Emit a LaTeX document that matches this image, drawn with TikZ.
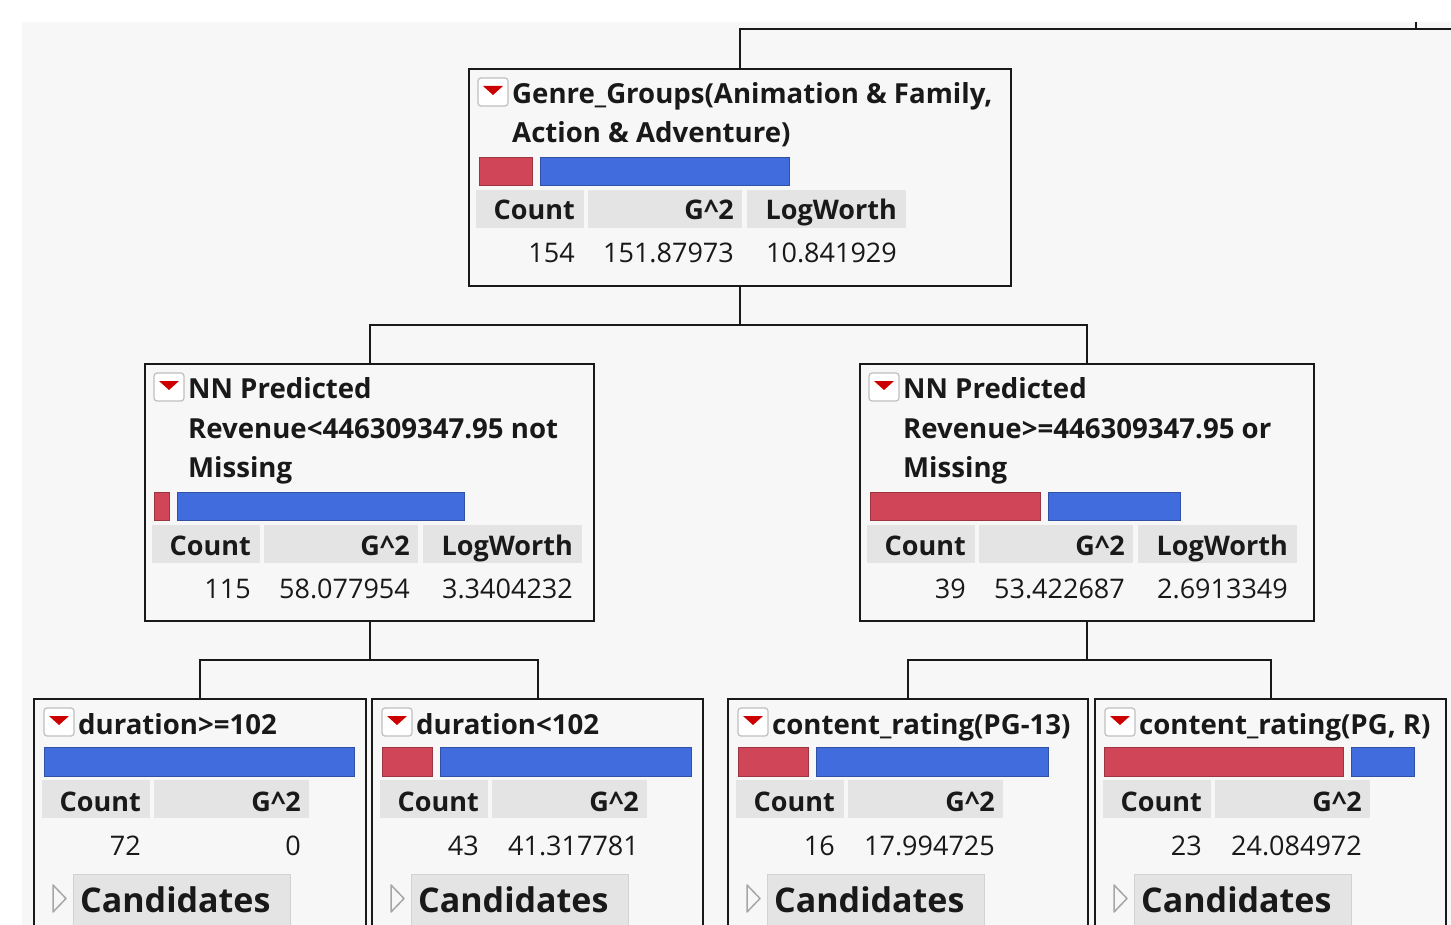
\documentclass[tikz,border=0pt]{standalone}
\usepackage{fontspec}
\setmainfont{Open Sans}
\definecolor{bg}{RGB}{247,247,247}
\definecolor{hdr}{RGB}{228,228,228}
\definecolor{barred}{RGB}{208,70,88}
\definecolor{barblue}{RGB}{65,108,222}
\definecolor{ink}{RGB}{25,25,25}

\begin{document}
\begin{tikzpicture}[x=1pt,y=-1pt,
  box/.style={draw=ink,line width=2pt,fill=bg,anchor=north west,inner sep=0pt,outer sep=0pt},
  link/.style={draw=ink,line width=2pt},
  ttl/.style={anchor=base west,inner sep=0pt,text=ink,font=\fontsize{27.6}{32}\selectfont\bfseries},
  hd/.style={anchor=base east,inner sep=0pt,text=ink,font=\fontsize{27}{32}\selectfont\bfseries},
  num/.style={anchor=base east,inner sep=0pt,text=ink,font=\fontsize{27}{32}\selectfont},
  cand/.style={anchor=base west,inner sep=0pt,text=ink,font=\fontsize{34}{40}\selectfont\bfseries},
  cell/.style={fill=hdr},
  rbar/.style={fill=barred,draw=barred!75!black,line width=0.8pt},
  bbar/.style={fill=barblue,draw=barblue!75!black,line width=0.8pt},
  icon/.style={draw=gray!50,fill=white,line width=1.2pt,rounded corners=3pt},
  tri/.style={fill=red!80!black},
  opener/.style={draw=gray!70,line width=1.5pt,line join=round},
  cbox/.style={fill=hdr,draw=gray!35,line width=1pt}]

\useasboundingbox (0,0) rectangle (1451,925);
\clip (0,0) rectangle (1451,925);
\fill[white] (0,0) rectangle (1451,925);
\fill[bg] (22,22) rectangle (1451,925);

\node[box,minimum width=542pt,minimum height=217pt] (root) at (469,69) {};
\node[box,minimum width=449pt,minimum height=257pt] (l) at (145,364) {};
\node[box,minimum width=454pt,minimum height=257pt] (r) at (860,364) {};
\node[box,minimum width=332pt,minimum height=300pt] (ll) at (34,699) {};
\node[box,minimum width=331pt,minimum height=300pt] (lr) at (372,699) {};
\node[box,minimum width=360pt,minimum height=300pt] (rl) at (728,699) {};
\node[box,minimum width=351pt,minimum height=300pt] (rr) at (1095,699) {};

\coordinate (edge) at (1451,29);
\coordinate (tick) at (1416,22);
\draw[link] (root.north) |- (edge);
\draw[link] (tick) -- (tick |- edge);
\draw[link] (root.south) -- ++(0,39) -| (l.north);
\draw[link] (root.south) -- ++(0,39) -| (r.north);
\draw[link] (l.south) -- ++(0,39) -| (ll.north);
\draw[link] (l.south) -- ++(0,39) -| (lr.north);
\draw[link] (r.south) -- ++(0,39) -| (rl.north);
\draw[link] (r.south) -- ++(0,39) -| (rr.north);

% root split
\begin{scope}[shift={(469,69)}]
\draw[icon] (9,9) rectangle (39,37);
\fill[tri] (14,17) -- (34,17) -- (24,26) -- cycle;
\node[ttl] (rt1) at (43,35) {Genre\_Groups(Animation \& Family,};
\node[ttl] (rt2) at (43,74) {Action \& Adventure)};
\draw[rbar] (10,88) rectangle (63,116);
\draw[bbar] (71,88) rectangle (320,116);
\fill[cell] (7,121) rectangle (115,159);
\fill[cell] (119,121) rectangle (273,159);
\fill[cell] (278,121) rectangle (437,159);
\node[hd] (rh1) at (106,151) {Count};
\node[hd] (rh2) at (265,151) {G\textasciicircum 2};
\node[hd] (rh3) at (428,151) {LogWorth};
\node[num] (rn1) at (106,194) {154};
\node[num] (rn2) at (265,194) {151.87973};
\node[num] (rn3) at (428,194) {10.841929};
\end{scope}

% revenue below
\begin{scope}[shift={(145,364)}]
\draw[icon] (9,9) rectangle (39,37);
\fill[tri] (14,17) -- (34,17) -- (24,26) -- cycle;
\node[ttl] (lt1) at (43,34) {NN Predicted};
\node[ttl] (lt2) at (43,74) {Revenue<446309347.95 not};
\node[ttl] (lt3) at (43,113) {Missing};
\draw[rbar] (9,128) rectangle (24,156);
\draw[bbar] (32,128) rectangle (319,156);
\fill[cell] (7,161) rectangle (115,199);
\fill[cell] (119,161) rectangle (273,199);
\fill[cell] (278,161) rectangle (437,199);
\node[hd] (lh1) at (106,191) {Count};
\node[hd] (lh2) at (265,191) {G\textasciicircum 2};
\node[hd] (lh3) at (428,191) {LogWorth};
\node[num] (ln1) at (106,234) {115};
\node[num] (ln2) at (265,234) {58.077954};
\node[num] (ln3) at (428,234) {3.3404232};
\end{scope}

% revenue above
\begin{scope}[shift={(860,364)}]
\draw[icon] (9,9) rectangle (39,37);
\fill[tri] (14,17) -- (34,17) -- (24,26) -- cycle;
\node[ttl] (pt1) at (43,34) {NN Predicted};
\node[ttl] (pt2) at (43,74) {Revenue>=446309347.95 or};
\node[ttl] (pt3) at (43,113) {Missing};
\draw[rbar] (10,128) rectangle (180,156);
\draw[bbar] (188,128) rectangle (320,156);
\fill[cell] (7,161) rectangle (115,199);
\fill[cell] (119,161) rectangle (273,199);
\fill[cell] (278,161) rectangle (437,199);
\node[hd] (ph1) at (106,191) {Count};
\node[hd] (ph2) at (265,191) {G\textasciicircum 2};
\node[hd] (ph3) at (428,191) {LogWorth};
\node[num] (pn1) at (106,234) {39};
\node[num] (pn2) at (265,234) {53.422687};
\node[num] (pn3) at (428,234) {2.6913349};
\end{scope}

% leaves
\begin{scope}[shift={(34,699)}]
\draw[icon] (10,9) rectangle (40,37);
\fill[tri] (15,17) -- (35,17) -- (25,26) -- cycle;
\node[ttl] (at1) at (44,35) {duration>=102};
\draw[bbar] (10,48) rectangle (320,77);
\fill[cell] (8,81) rectangle (116,119);
\fill[cell] (120,81) rectangle (275,119);
\node[hd] (ah1) at (107,112) {Count};
\node[hd] (ah2) at (267,112) {G\textasciicircum 2};
\node[num] (an1) at (107,156) {72};
\node[num] (an2) at (267,156) {0};
\draw[opener] (19,186) -- (32,199.5) -- (19,213) -- cycle;
\draw[cbox] (39,175) rectangle (256,260);
\node[cand] (ac) at (46,213) {Candidates};
\end{scope}

\begin{scope}[shift={(372,699)}]
\draw[icon] (10,9) rectangle (40,37);
\fill[tri] (15,17) -- (35,17) -- (25,26) -- cycle;
\node[ttl] (bt1) at (44,35) {duration<102};
\draw[rbar] (10,48) rectangle (60,77);
\draw[bbar] (68,48) rectangle (319,77);
\fill[cell] (8,81) rectangle (116,119);
\fill[cell] (120,81) rectangle (275,119);
\node[hd] (bh1) at (107,112) {Count};
\node[hd] (bh2) at (267,112) {G\textasciicircum 2};
\node[num] (bn1) at (107,156) {43};
\node[num] (bn2) at (267,156) {41.317781};
\draw[opener] (19,186) -- (32,199.5) -- (19,213) -- cycle;
\draw[cbox] (39,175) rectangle (256,260);
\node[cand] (bc) at (46,213) {Candidates};
\end{scope}

\begin{scope}[shift={(728,699)}]
\draw[icon] (10,9) rectangle (40,37);
\fill[tri] (15,17) -- (35,17) -- (25,26) -- cycle;
\node[ttl] (ct1) at (44,35) {content\_rating(PG-13)};
\draw[rbar] (10,48) rectangle (80,77);
\draw[bbar] (88,48) rectangle (320,77);
\fill[cell] (8,81) rectangle (116,119);
\fill[cell] (120,81) rectangle (275,119);
\node[hd] (ch1) at (107,112) {Count};
\node[hd] (ch2) at (267,112) {G\textasciicircum 2};
\node[num] (cn1) at (107,156) {16};
\node[num] (cn2) at (267,156) {17.994725};
\draw[opener] (19,186) -- (32,199.5) -- (19,213) -- cycle;
\draw[cbox] (39,175) rectangle (256,260);
\node[cand] (cc) at (46,213) {Candidates};
\end{scope}

\begin{scope}[shift={(1095,699)}]
\draw[icon] (10,9) rectangle (40,37);
\fill[tri] (15,17) -- (35,17) -- (25,26) -- cycle;
\node[ttl] (dt1) at (44,35) {content\_rating(PG, R)};
\draw[rbar] (9,48) rectangle (248,77);
\draw[bbar] (256,48) rectangle (319,77);
\fill[cell] (8,81) rectangle (116,119);
\fill[cell] (120,81) rectangle (275,119);
\node[hd] (dh1) at (107,112) {Count};
\node[hd] (dh2) at (267,112) {G\textasciicircum 2};
\node[num] (dn1) at (107,156) {23};
\node[num] (dn2) at (267,156) {24.084972};
\draw[opener] (19,186) -- (32,199.5) -- (19,213) -- cycle;
\draw[cbox] (39,175) rectangle (256,260);
\node[cand] (dc) at (46,213) {Candidates};
\end{scope}

\end{tikzpicture}
\end{document}
